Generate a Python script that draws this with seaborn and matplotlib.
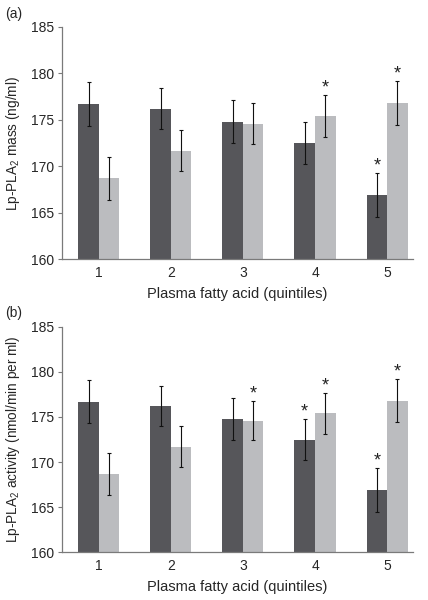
import matplotlib
matplotlib.use("Agg")
import matplotlib.pyplot as plt
import seaborn as sns
import pandas as pd

# data (same means in both panels)
quintiles = ["1", "2", "3", "4", "5"]
dark_mean = [176.7, 176.2, 174.8, 172.5, 166.9]
dark_err = [2.35, 2.2, 2.3, 2.3, 2.4]
light_mean = [168.7, 171.7, 174.6, 175.4, 176.8]
light_err = [2.3, 2.25, 2.2, 2.25, 2.35]

# significance marks
stars_a_dark = [False, False, False, False, True]
stars_a_light = [False, False, False, True, True]
stars_b_dark = [False, False, False, True, True]
stars_b_light = [False, False, True, True, True]

y_ticks = [160, 165, 170, 175, 180, 185]

dark_color = "#56565a"
light_color = "#bbbcbf"
spine_color = "#7a7a7a"

sns.set_style("white")
plt.rcParams["font.family"] = ["Liberation Sans", "DejaVu Sans"]
plt.rcParams["mathtext.fontset"] = "custom"
plt.rcParams["mathtext.rm"] = "Liberation Sans"


def draw_panel(ax, ylabel, star_dark, star_light):
    df = pd.DataFrame({
        "quintile": quintiles * 2,
        "group": ["dark"] * len(quintiles) + ["light"] * len(quintiles),
        "value": dark_mean + light_mean,
    })
    sns.barplot(data=df, x="quintile", y="value", hue="group",
                palette=[dark_color, light_color], width=0.57,
                errorbar=None, legend=False, saturation=1, linewidth=0,
                ax=ax)

    # error bars and stars on top of the bars seaborn drew
    for cont, err, star in zip(ax.containers, [dark_err, light_err], [star_dark, star_light]):
        xs = [b.get_x() + b.get_width() / 2 for b in cont]
        ys = [b.get_height() for b in cont]
        ax.errorbar(xs, ys, yerr=err, fmt="none", ecolor="#111111",
                    elinewidth=0.8, capsize=1.6, capthick=0.8)
        for x, y, e, s in zip(xs, ys, err, star):
            if s:
                ax.text(x, y + e - 0.15, "*", ha="center", va="bottom",
                        fontsize=13, color="#222222")

    ax.set_ylim(160, 185)
    ax.set_xlim(-0.51, 4.36)
    ax.set_yticks(y_ticks)
    ax.set_ylabel(ylabel, fontsize=9.8, labelpad=6)
    ax.set_xlabel("Plasma fatty acid (quintiles)", fontsize=10.5, labelpad=5)
    ax.tick_params(axis="y", direction="out", length=3, width=0.8,
                   color=spine_color, labelsize=10, pad=3, left=True)
    ax.tick_params(axis="x", length=0, labelsize=10, pad=5)
    sns.despine(ax=ax)
    for side in ["left", "bottom"]:
        ax.spines[side].set_color(spine_color)
        ax.spines[side].set_linewidth(0.9)


fig = plt.figure(figsize=(4.28, 6.0), dpi=100)
ax_a = fig.add_axes([0.145, 0.568, 0.820, 0.387])
ax_b = fig.add_axes([0.145, 0.0795, 0.820, 0.376])

draw_panel(ax_a, "Lp-PLA$_2$ mass (ng/ml)", stars_a_dark, stars_a_light)
draw_panel(ax_b, "Lp-PLA$_2$ activity (nmol/min per ml)", stars_b_dark, stars_b_light)

fig.text(0.012, 0.977, "(a)", fontsize=10, va="center")
fig.text(0.012, 0.478, "(b)", fontsize=10, va="center")

fig.savefig("out.png", dpi=100)
